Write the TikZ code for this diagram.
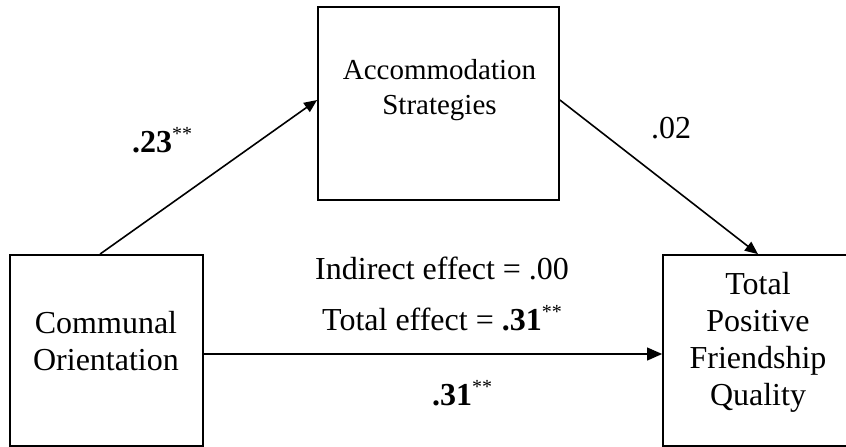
\documentclass[tikz,border=0pt]{standalone}
\usepackage{fontspec}
\setmainfont{Liberation Serif}
\usetikzlibrary{arrows.meta}
\newcommand{\sigstars}{\raisebox{12pt}{\fontsize{20}{20}\selectfont **}}
\begin{document}
\begin{tikzpicture}[x=1pt,y=-1pt,
  varbox/.style={draw,line width=1.8pt,rectangle,inner sep=0pt},
  lbl/.style={inner sep=0pt,font=\fontsize{32}{37}\selectfont},
  path/.style={line width=1.6pt,-{Triangle[length=13pt,width=11pt]}}]
\useasboundingbox (0,0) rectangle (846,447);
\clip (0,0) rectangle (846,447);
% variable boxes
\node[varbox,minimum width=241pt,minimum height=193pt] (acc) at (438.5,103.5) {};
\node[varbox,minimum width=193pt,minimum height=191pt] (com) at (106.5,350.5) {};
\node[varbox,minimum width=220pt,minimum height=191pt] (tot) at (773,350.5) {};
% box texts (anchored at the baseline of the last line)
\node[lbl,font=\fontsize{29}{35}\selectfont,align=center,anchor=base] (acctext) at (439.5,114) {Accommodation\\Strategies};
\node[lbl,align=center,anchor=base] (comtext) at (106,370) {Communal\\Orientation};
\node[lbl,align=center,anchor=base] (tottext) at (758,405) {Total\\Positive\\Friendship\\Quality};
% paths
\draw[path] ([xshift=-6.5pt]com.north) -- ([yshift=3.5pt]acc.west);
\draw[path] ([yshift=3.5pt]acc.east) -- ([xshift=-15pt]tot.north);
\draw[line width=1.1pt,-{Triangle[length=15pt,width=13pt]}] ([yshift=-3.5pt]com.east) -- ([yshift=-3.5pt]tot.west);
\draw[line width=1.7pt] ([yshift=-3.5pt]com.east) -- ++(32,0);
% coefficients
\node[lbl,anchor=base west] (a) at (132,152) {\textbf{.23}\sigstars};
\node[lbl,anchor=base west] (b) at (651,138) {.02};
\node[lbl,anchor=base west] (ind) at (315,279) {Indirect effect = .00};
\node[lbl,anchor=base west] (total) at (322,330) {Total effect = \textbf{.31}\sigstars};
\node[lbl,anchor=base west] (c) at (432,405) {\textbf{.31}\sigstars};
\end{tikzpicture}
\end{document}
